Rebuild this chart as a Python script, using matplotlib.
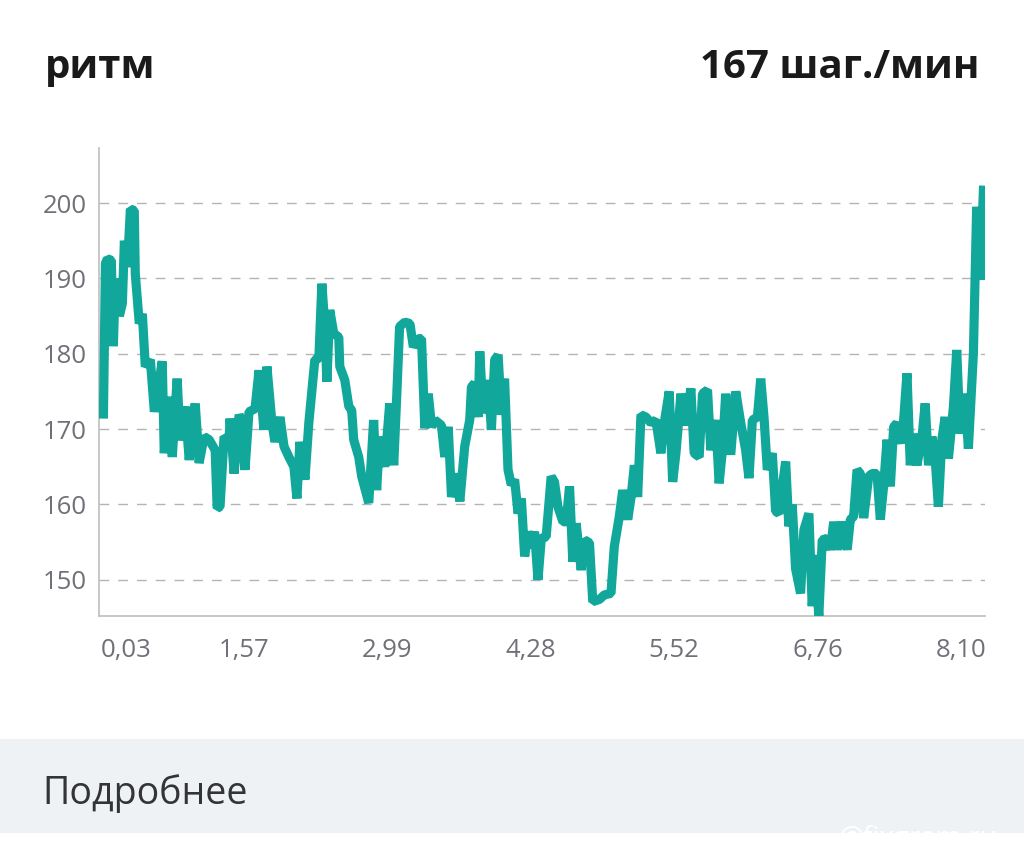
import matplotlib

matplotlib.use("Agg")
import matplotlib.pyplot as plt
from matplotlib.patches import Rectangle

plt.rcParams["font.family"] = ["Open Sans", "DejaVu Sans"]

TEAL = "#11a89b"
GRID = "#b4b4b4"
TICK_TEXT = "#707078"

# sample position along the run (tick units) and cadence, steps/min
positions = [
    0.021, 0.035, 0.049, 0.076, 0.090, 0.104, 0.132, 0.153, 0.167, 0.188,
    0.209, 0.236, 0.243, 0.271, 0.292, 0.313, 0.348, 0.376, 0.396, 0.431,
    0.445, 0.480, 0.501, 0.535, 0.556, 0.591, 0.619, 0.640, 0.661, 0.688,
    0.723, 0.758, 0.800, 0.814, 0.834, 0.862, 0.897, 0.904, 0.932, 0.967,
    0.974, 1.008, 1.036, 1.078, 1.106, 1.140, 1.161, 1.196, 1.217, 1.252,
    1.280, 1.314, 1.349, 1.370, 1.391, 1.426, 1.453, 1.474, 1.495, 1.523,
    1.544, 1.565, 1.579, 1.599, 1.627, 1.662, 1.669, 1.704, 1.732, 1.752,
    1.766, 1.801, 1.822, 1.871, 1.905, 1.926, 1.947, 1.982, 2.017, 2.045,
    2.065, 2.086, 2.123, 2.158, 2.182, 2.216, 2.239, 2.262, 2.286, 2.309,
    2.332, 2.378, 2.401, 2.425, 2.448, 2.483, 2.506, 2.540, 2.575, 2.587,
    2.610, 2.633, 2.645, 2.668, 2.703, 2.726, 2.749, 2.773, 2.796, 2.818,
    2.842, 2.865, 2.888, 2.912, 2.935, 2.958, 2.981, 3.004, 3.027, 3.051,
    3.074, 3.108, 3.143, 3.166, 3.190, 3.225, 3.248, 3.271, 3.294, 3.317,
    3.352, 3.375, 3.410, 3.433, 3.479, 3.514, 3.560, 3.583, 3.618, 3.642,
    3.677, 3.700, 3.723, 3.746, 3.769, 3.804, 3.839, 3.873, 3.908, 3.931,
    3.966, 3.990, 4.013, 4.048, 4.082, 4.117, 4.140, 4.175, 4.198, 4.233,
    4.256, 4.291, 4.314, 4.337, 4.360, 4.395, 4.430, 4.465, 4.499, 4.522,
    4.546, 4.581, 4.604, 4.627, 4.650, 4.685, 4.708, 4.731, 4.755, 4.778,
    4.800, 4.824, 4.847, 4.882, 4.905, 4.940, 4.963, 4.986, 5.009, 5.033,
    5.067, 5.090, 5.113, 5.137, 5.172, 5.207, 5.229, 5.252, 5.276, 5.299,
    5.322, 5.357, 5.380, 5.415, 5.438, 5.461, 5.485, 5.508, 5.531, 5.554,
    5.589, 5.624, 5.647, 5.670, 5.693, 5.728, 5.751, 5.774, 5.798, 5.821,
    5.843, 5.867, 5.890, 5.913, 5.948, 5.971, 5.994, 6.029, 6.052, 6.087,
    6.110, 6.134, 6.157,
]
cadence = [
    172.0, 192.0, 192.6, 192.4, 181.0, 190.0, 185.0, 186.7, 195.0, 191.5,
    199.2, 199.0, 190.6, 184.0, 185.3, 178.3, 179.2, 172.3, 174.7, 179.0,
    166.8, 174.3, 166.3, 176.7, 168.5, 173.0, 165.9, 170.3, 173.4, 165.5,
    169.0, 168.6, 167.2, 159.5, 159.7, 169.0, 168.6, 171.4, 164.1, 171.9,
    171.6, 164.6, 172.3, 172.7, 177.8, 169.9, 178.3, 170.8, 168.3, 171.6,
    167.7, 166.3, 165.0, 160.8, 168.3, 163.3, 170.8, 175.0, 179.2, 179.4,
    189.3, 183.6, 176.3, 185.8, 182.7, 182.2, 178.3, 176.5, 173.0, 172.5,
    168.6, 166.3, 163.7, 160.2, 171.2, 161.9, 169.0, 165.0, 173.4, 165.2,
    173.9, 183.6, 184.2, 184.0, 180.9, 182.0, 182.0, 170.1, 174.7, 170.3,
    171.2, 170.5, 166.3, 170.3, 161.0, 164.1, 160.4, 167.7, 171.2, 175.6,
    176.1, 171.6, 180.3, 172.1, 176.5, 169.9, 179.2, 179.8, 171.9, 176.7,
    164.6, 162.6, 163.3, 158.8, 160.8, 153.1, 156.4, 154.2, 156.4, 150.0,
    155.5, 155.7, 163.7, 163.0, 159.7, 157.7, 157.7, 162.4, 152.4, 157.5,
    151.3, 155.3, 154.9, 147.1, 147.4, 148.0, 148.2, 154.4, 158.4, 161.9,
    158.0, 161.0, 165.2, 161.0, 171.9, 171.6, 170.8, 171.2, 166.8, 170.8,
    175.0, 163.0, 166.8, 174.7, 170.5, 175.4, 166.8, 166.3, 174.7, 175.2,
    167.2, 171.2, 162.8, 167.2, 174.7, 166.6, 175.0, 170.8, 167.2, 163.5,
    171.2, 171.6, 176.7, 171.6, 164.6, 166.8, 159.1, 158.8, 162.4, 165.7,
    157.1, 160.0, 151.5, 148.2, 156.6, 158.8, 146.5, 153.3, 145.1, 155.3,
    155.5, 154.0, 157.7, 154.0, 157.7, 154.0, 158.0, 158.4, 164.6, 164.1,
    158.2, 163.7, 164.1, 164.1, 158.0, 162.4, 168.6, 162.4, 170.3, 170.8,
    168.1, 177.4, 165.2, 169.4, 165.2, 168.8, 173.4, 165.2, 169.0, 165.9,
    159.7, 168.6, 171.6, 166.1, 173.0, 180.5, 169.4, 174.7, 167.4, 180.0,
    199.5, 189.8, 201.7,
]

distance_labels = ["0,03", "1,57", "2,99", "4,28", "5,52", "6,76", "8,10"]
y_ticks = [150, 160, 170, 180, 190, 200]

title = "ритм"
current_value = "167 шаг./мин"
more_label = "Подробнее"

fig = plt.figure(figsize=(10.24, 8.52), dpi=100)
fig.patch.set_facecolor("white")

ax = fig.add_axes([99 / 1024, 1 - 616 / 852, 886 / 1024, 468 / 852])
ax.plot(positions, cadence, color=TEAL, linewidth=6.6, solid_joinstyle="bevel",
        zorder=3)

ax.set_xlim(-0.01, 6.168)
ax.set_ylim(145.2, 207.3)
ax.set_xticks(range(len(distance_labels)))
ax.set_xticklabels(distance_labels)
ax.set_yticks(y_ticks)
ax.set_yticklabels([str(v) for v in y_ticks])
ax.tick_params(axis="both", length=0, labelsize=18.5, labelcolor=TICK_TEXT)
ax.tick_params(axis="x", pad=16)
ax.tick_params(axis="y", pad=9)
ax.get_xticklabels()[0].set_ha("left")

for v in y_ticks:
    ax.axhline(v, color=GRID, linewidth=1.0, linestyle=(0, (7, 6.5)), zorder=1)

for side in ("top", "right"):
    ax.spines[side].set_visible(False)
for side in ("left", "bottom"):
    ax.spines[side].set_color("#bdbdbd")
    ax.spines[side].set_linewidth(1.2)

fig.text(45 / 1024, 1 - 78 / 852, title, fontsize=29, fontweight="bold",
         color="#1a1a1a", ha="left", va="baseline")
fig.text(980 / 1024, 1 - 78 / 852, current_value, fontsize=29,
         fontweight="bold", color="#1a1a1a", ha="right", va="baseline")

fig.patches.append(Rectangle((0, 1 - 833 / 852), 1, 94 / 852,
                             transform=fig.transFigure, facecolor="#eff2f5",
                             edgecolor="none", zorder=0))
fig.text(42 / 1024, 1 - 804 / 852, more_label, fontsize=27, color="#333338",
         ha="left", va="baseline")
fig.text(838 / 1024, 1 - 846 / 852, "@fixgram.ru", fontsize=20,
         color="white", ha="left", va="baseline")

fig.savefig("out.png", dpi=100, facecolor="white")
